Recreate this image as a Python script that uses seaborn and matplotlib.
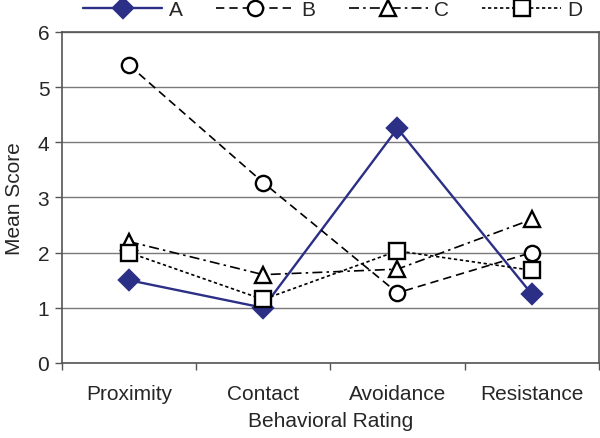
import pandas as pd
import matplotlib
matplotlib.use("Agg")
import matplotlib.pyplot as plt
import seaborn as sns

# values
ratings = ["Proximity", "Contact", "Avoidance", "Resistance"]
group_a = [1.50, 1.00, 4.25, 1.25]
group_b = [5.40, 3.27, 1.27, 2.00]
group_c = [2.20, 1.60, 1.70, 2.60]
group_d = [2.00, 1.15, 2.03, 1.68]
groups = ["A", "B", "C", "D"]

df = pd.DataFrame({"Rating": ratings, "A": group_a, "B": group_b,
                   "C": group_c, "D": group_d})
long_df = df.melt(id_vars="Rating", var_name="Group", value_name="Score")

sns.set_style("white")
plt.rcParams["font.family"] = ["Liberation Sans", "DejaVu Sans"]

fig = plt.figure(figsize=(6, 4.39), dpi=100)
ax = fig.add_axes([0.103, 0.171, 0.895, 0.754])

palette = {"A": "#2b2f86", "B": "black", "C": "black", "D": "black"}
markers = {"A": "D", "B": "o", "C": "^", "D": "s"}
dashes = {"A": "", "B": (5, 3), "C": (6, 2.5, 1.5, 2.5), "D": (2, 1.6)}

sns.lineplot(data=long_df, x="Rating", y="Score", hue="Group", style="Group",
             palette=palette, markers=markers, dashes=dashes, ax=ax,
             linewidth=1.2, markersize=11, markeredgewidth=1.7, legend=False,
             sort=False)

# open markers for B, C, D
for line, g in zip(ax.get_lines(), groups):
    line.set_markeredgecolor(palette[g])
    if g == "A":
        line.set_markerfacecolor(palette[g])
        line.set_linewidth(1.7)
        line.set_markersize(10)
    else:
        line.set_markerfacecolor("white")

ax.set_xlim(-0.5, 3.5)
ax.set_ylim(0, 6)
ax.set_yticks(range(7))
ax.yaxis.grid(True, color="#7a7a7a", linewidth=1.0)
ax.set_axisbelow(True)

ax.set_xticks([-0.5, 0.5, 1.5, 2.5, 3.5])
ax.set_xticklabels([])
ax.set_xticks(range(4), minor=True)
ax.set_xticklabels(ratings, minor=True)
ax.tick_params(axis="x", which="major", direction="out", length=5, width=1,
               color="#555555", bottom=True)
ax.tick_params(axis="x", which="minor", length=0, pad=15, labelsize=15)
ax.tick_params(axis="y", direction="out", length=5, width=1, color="#555555",
               left=True, labelsize=15, pad=4)

for sp in ax.spines.values():
    sp.set_color("#555555")
    sp.set_linewidth(1.2)

ax.set_xlabel("Behavioral Rating", fontsize=15, labelpad=6)
ax.set_ylabel("Mean Score", fontsize=15, labelpad=10)

handles = ax.get_lines()[:4]
fig.legend(handles, groups, loc="upper center", bbox_to_anchor=(0.555, 1.04),
           ncol=4, frameon=False, fontsize=15, handlelength=3.8,
           columnspacing=1.6, handletextpad=0.3)

fig.savefig("out.png", dpi=100)
